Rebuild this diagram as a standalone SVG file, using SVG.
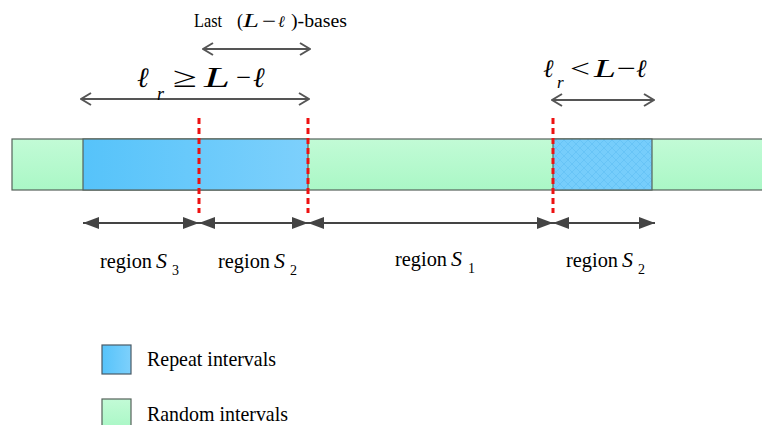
<svg xmlns="http://www.w3.org/2000/svg" width="762" height="425" viewBox="0 0 762 425">
<defs>
<linearGradient id="gGreen" x1="0" y1="0" x2="0" y2="1"><stop offset="0" stop-color="#c2fbd6"/><stop offset="1" stop-color="#aaf7c6"/></linearGradient>
<linearGradient id="gBlue" x1="0" y1="0" x2="1" y2="0"><stop offset="0" stop-color="#56c3fa"/><stop offset="1" stop-color="#7dd0fc"/></linearGradient>
<pattern id="hatch" width="8" height="8" patternUnits="userSpaceOnUse">
<rect width="8" height="8" fill="#76cdfb"/>
<path d="M0,0 L8,8 M8,0 L0,8" stroke="#66c3f5" stroke-width="0.9"/>
</pattern>
<marker id="tri" viewBox="0 0 16 12" refX="16" refY="6" markerWidth="16" markerHeight="12" markerUnits="userSpaceOnUse" orient="auto-start-reverse">
<path d="M0,0 L16,6 L0,12 Z" fill="#444"/>
</marker>
<marker id="chev" viewBox="0 0 12 14" refX="11" refY="7" markerWidth="12" markerHeight="14" markerUnits="userSpaceOnUse" orient="auto-start-reverse">
<path d="M1,1 L11,7 L1,13" fill="none" stroke="#555" stroke-width="2"/>
</marker>
</defs>
<style>
.serif{font-family:"Liberation Serif","Times New Roman",serif;fill:#000}
.it{font-style:italic}
.ell{font-family:"DejaVu Serif",serif;font-style:italic;font-weight:normal}
.bar{stroke:#55625a;stroke-width:1.2}
.dash{stroke:#ee1111;stroke-width:3;stroke-dasharray:6 4}
.arr{stroke:#444;stroke-width:2;fill:none}
.arr2{stroke:#555;stroke-width:2.2;fill:none}
.rg{font-size:20px}
.S{font-size:22px;font-style:italic}
.sub{font-size:14px}
</style>

<g id="bar">
<rect x="12" y="139" width="760" height="51" fill="url(#gGreen)" class="bar"/>
<rect id="repeat1" x="83" y="139" width="225" height="51" fill="url(#gBlue)" class="bar"/>
<rect id="repeat2" x="553" y="139" width="99" height="51" fill="url(#hatch)" class="bar"/>
</g>

<g id="boundaries">
<line x1="199" y1="118" x2="199" y2="213" class="dash"/>
<line x1="308" y1="118" x2="308" y2="213" class="dash"/>
<line x1="553" y1="118" x2="553" y2="213" class="dash"/>
</g>

<g id="connectors">
<path d="M83,223 H199" class="arr" marker-start="url(#tri)" marker-end="url(#tri)"/>
<path d="M199,223 H308" class="arr" marker-start="url(#tri)" marker-end="url(#tri)"/>
<path d="M308,223 H553" class="arr" marker-start="url(#tri)" marker-end="url(#tri)"/>
<path d="M553,223 H655" class="arr" marker-start="url(#tri)" marker-end="url(#tri)"/>
<path d="M203,49 H310" class="arr2" marker-start="url(#chev)" marker-end="url(#chev)"/>
<path d="M81,99 H309" class="arr2" marker-start="url(#chev)" marker-end="url(#chev)"/>
<path d="M552,100 H654" class="arr2" marker-start="url(#chev)" marker-end="url(#chev)"/>
</g>

<g id="label-last" class="serif" font-size="18">
<text x="194" y="27" textLength="28" lengthAdjust="spacingAndGlyphs">Last</text>
<text x="237" y="27">(</text>
<text x="243" y="27" class="it" textLength="16" lengthAdjust="spacingAndGlyphs">L</text>
<text x="262" y="27" textLength="14" lengthAdjust="spacingAndGlyphs">−</text>
<text x="278" y="27" class="ell" font-size="16">ℓ</text>
<text x="291" y="27" textLength="56" lengthAdjust="spacingAndGlyphs">)-bases</text>
</g>

<g id="label-ge" class="serif">
<text x="137" y="87" font-size="28" class="ell">ℓ</text>
<text x="157" y="100" font-size="18" class="it">r</text>
<text x="173" y="87" font-size="29" textLength="24" lengthAdjust="spacingAndGlyphs">≥</text>
<text x="204" y="87" font-size="29" class="it" textLength="26" lengthAdjust="spacingAndGlyphs">L</text>
<text x="236" y="87" font-size="29" textLength="15" lengthAdjust="spacingAndGlyphs">−</text>
<text x="253" y="87" font-size="28" class="ell">ℓ</text>
</g>

<g id="label-lt" class="serif">
<text x="543" y="77" font-size="25" class="ell">ℓ</text>
<text x="557" y="88" font-size="17" class="it">r</text>
<text x="570" y="77" font-size="26" textLength="20" lengthAdjust="spacingAndGlyphs">&lt;</text>
<text x="594" y="77" font-size="26" class="it" textLength="22" lengthAdjust="spacingAndGlyphs">L</text>
<text x="617" y="77" font-size="26" textLength="19" lengthAdjust="spacingAndGlyphs">−</text>
<text x="636" y="77" font-size="25" class="ell">ℓ</text>
</g>

<g id="region-labels" class="serif">
<text x="100" y="268" class="rg" textLength="52" lengthAdjust="spacingAndGlyphs">region</text>
<text x="156" y="268" class="S">S</text>
<text x="172" y="275" class="sub">3</text>
<text x="218" y="268" class="rg" textLength="52" lengthAdjust="spacingAndGlyphs">region</text>
<text x="274" y="268" class="S">S</text>
<text x="290" y="275" class="sub">2</text>
<text x="395" y="266" class="rg" textLength="52" lengthAdjust="spacingAndGlyphs">region</text>
<text x="451" y="266" class="S">S</text>
<text x="468" y="273" class="sub">1</text>
<text x="566" y="267" class="rg" textLength="52" lengthAdjust="spacingAndGlyphs">region</text>
<text x="622" y="267" class="S">S</text>
<text x="638" y="274" class="sub">2</text>
</g>

<g id="legend-repeat">
<rect x="102" y="345" width="29" height="29" fill="url(#gBlue)" stroke="#4a5a66" stroke-width="1.2"/>
<text x="147" y="366" class="serif" font-size="21" textLength="129" lengthAdjust="spacingAndGlyphs">Repeat intervals</text>
</g>
<g id="legend-random">
<rect x="102" y="399" width="29" height="29" fill="url(#gGreen)" stroke="#55625a" stroke-width="1.2"/>
<text x="147" y="421" class="serif" font-size="21" textLength="141" lengthAdjust="spacingAndGlyphs">Random intervals</text>
</g>
</svg>
